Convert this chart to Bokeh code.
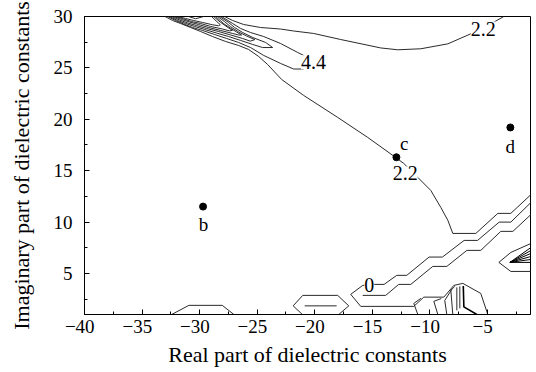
from bokeh.plotting import figure
from bokeh.models import Range1d, SingleIntervalTicker, ColumnDataSource, LabelSet
from bokeh.embed import file_html
from bokeh.resources import INLINE
from bokeh.core.properties import value

FONT = "Liberation Serif"

# ---------------- data ----------------
point_names = ["b", "c", "d"]
point_re = [-29.7, -12.9, -3.0]
point_im = [11.5, 16.3, 19.2]

x_tick_values = [-40, -35, -30, -25, -20, -15, -10, -5]

# contour level 2.2 - long line through point c
c22_diag_x = [-33.0, -32.35, -31.65, -30.78, -29.91, -28.87, -27.74, -26.61, -25.74, -24.87,
              -24.09, -22.87, -20.96, -18.0, -15.39, -12.96, -12.26, -11.04, -9.91, -9.04,
              -8.43, -8.0, -6.0, -4.09, -2.96, -1.2]
c22_diag_y = [30.0, 29.61, 29.32, 28.93, 28.54, 28.05, 27.57, 27.18, 26.79, 26.11,
              25.33, 23.87, 22.32, 20.18, 18.23, 16.28, 15.70, 14.34, 13.07, 11.42,
              10.16, 8.89, 8.89, 10.84, 10.84, 12.68]
# contour level 2.2 - upper curve
c22_top_x = [-27.83, -27.13, -26.17, -24.70, -22.96, -21.83, -20.09, -17.74, -14.26, -12.78,
             -10.78, -8.43, -6.43, -4.96, -3.57]
c22_top_y = [30.0, 29.61, 29.22, 28.93, 28.78, 28.59, 28.35, 27.76, 26.94, 26.76,
             26.86, 27.34, 28.32, 29.12, 30.0]
# contour level 4.4 (tongue)
c44_x = [-32.78, -32.09, -31.39, -30.61, -29.74, -28.70, -27.65, -26.61, -25.57, -24.43,
         -22.96, -21.83, -20.96, -20.52, -20.96, -21.48, -22.96, -24.43, -25.57, -26.43,
         -27.13, -28.09]
c44_y = [30.0, 29.61, 29.27, 28.93, 28.64, 28.25, 27.86, 27.47, 26.98, 26.21,
         25.43, 24.89, 24.89, 25.53, 26.21, 26.50, 27.37, 28.05, 28.44, 28.83,
         29.32, 30.0]
# inner levels of the upper-left cluster
c66_x = [-32.61, -31.91, -31.22, -30.43, -29.57, -28.52, -27.48, -26.43, -25.39, -24.52,
         -23.65, -24.26, -25.39, -26.26, -26.96, -27.48, -28.26]
c66_y = [30.0, 29.61, 29.32, 29.03, 28.74, 28.39, 28.05, 27.67, 27.28, 26.98,
         26.98, 27.47, 27.96, 28.44, 28.93, 29.42, 30.0]
c88_x = [-32.43, -31.74, -31.04, -30.26, -29.39, -28.35, -27.30, -26.26, -25.6, -25.2,
         -25.91, -26.61, -27.30, -27.83, -28.43]
c88_y = [30.0, 29.66, 29.37, 29.12, 28.83, 28.54, 28.20, 27.86, 27.6, 27.75,
         28.1, 28.5, 29.0, 29.5, 30.0]
c110_x = [-32.26, -31.57, -30.87, -30.09, -29.22, -28.17, -27.13, -26.6, -26.35, -26.8,
          -27.3, -27.9, -28.3, -28.61]
c110_y = [30.0, 29.71, 29.46, 29.22, 28.93, 28.64, 28.35, 28.2, 28.2, 28.5,
          28.85, 29.3, 29.7, 30.0]
c132_x = [-32.09, -31.39, -30.70, -29.91, -29.04, -28.0, -27.4, -27.15, -27.5, -28.2, -28.78]
c132_y = [30.0, 29.76, 29.51, 29.32, 29.03, 28.78, 28.6, 28.65, 28.9, 29.45, 30.0]
c154_x = [-31.91, -31.22, -30.52, -29.74, -28.9, -28.35, -28.2, -28.5, -28.96]
c154_y = [30.0, 29.81, 29.61, 29.42, 29.2, 29.1, 29.2, 29.5, 30.0]
c176_x = [-30.96, -30.35, -29.65]
c176_y = [30.0, 29.78, 30.0]

# lower contours
hexA_x = [-32.43, -30.93, -28.03, -27.02]
hexA_y = [1.0, 1.89, 1.89, 1.0]
hexB_x = [-21.07, -21.87, -21.04, -18.0, -17.04, -17.91]
hexB_y = [1.0, 1.84, 2.86, 2.86, 1.84, 1.0]
hexB_in_x = [-20.87, -18.09]
hexB_in_y = [1.84, 1.84]

c0_x = [-1.2, -2.96, -3.97, -5.85, -7.02, -8.90, -10.06, -12.0, -12.87, -13.97, -14.87,
        -15.83, -16.87, -16.0, -11.39, -10.52, -8.78, -7.91, -7.13, -5.57, -4.96]
c0_y = [11.91, 9.99, 9.99, 8.21, 8.21, 6.59, 6.59, 4.81, 4.81, 3.93, 3.93,
        3.83, 2.96, 1.79, 1.79, 2.69, 2.69, 3.83, 4.03, 3.05, 1.0]
band_x = [-1.2, -2.78, -3.83, -5.57, -6.78, -8.52, -9.74, -11.65, -12.70, -13.83, -15.83]
band_y = [10.74, 9.09, 9.09, 7.24, 7.24, 5.68, 5.68, 3.93, 3.93, 2.86, 2.86]

tri_x = [-1.2, -2.96, -4.0, -2.96, -1.2]
tri_y = [7.92, 7.04, 6.07, 5.19, 5.19]
fan_start_x = -3.04
fan_start_y = 6.07
fan_end_y = [7.53, 7.24, 6.95, 6.65, 6.36, 6.07]

hatch_xs = [[-11.04, -11.39, -10.78], [-9.30, -9.65, -9.0], [-8.52, -8.70, -8.09],
            [-8.0, -8.17, -7.83], [-7.65, -7.65], [-7.39, -7.39]]
hatch_ys = [[1.0, 2.08, 2.57], [1.0, 2.28, 2.55], [1.0, 2.37, 3.44],
            [1.0, 3.35, 3.74], [1.40, 3.64], [1.60, 3.74]]
hook_x = [-7.09, -7.04, -5.91]
hook_y = [3.78, 1.74, 1.0]

level_text = ["4.4", "2.2", "2.2", "0"]
level_x = [-20.1, -5.36, -12.14, -15.26]
level_y = [25.55, 28.83, 14.73, 3.83]

name_x = [-29.67, -12.22, -3.02]
name_y = [9.77, 17.65, 17.35]

# ---------------- figure ----------------
p = figure(width=536, height=372, x_range=Range1d(-40, -1.25), y_range=Range1d(1, 30),
           output_backend="svg", toolbar_location=None,
           min_border_left=84, min_border_right=6, min_border_top=16, min_border_bottom=58)
p.background_fill_color = "white"
p.border_fill_color = "white"
p.outline_line_color = "black"
p.outline_line_width = 1
p.xgrid.visible = False
p.ygrid.visible = False

p.xaxis.ticker = SingleIntervalTicker(interval=5, num_minor_ticks=2)
p.yaxis.ticker = SingleIntervalTicker(interval=5, num_minor_ticks=2)
p.xaxis.major_label_overrides = {v: "\u2212" + str(abs(v)) + "\u2007" for v in x_tick_values}
for ax in (p.xaxis[0], p.yaxis[0]):
    ax.axis_line_color = "black"
    ax.major_tick_line_color = "black"
    ax.minor_tick_line_color = "black"
    ax.major_tick_in = 5
    ax.major_tick_out = 0
    ax.minor_tick_in = 3
    ax.minor_tick_out = 0
    ax.major_label_text_font = FONT
    ax.major_label_text_font_size = "19px"
    ax.major_label_text_color = "black"
    ax.axis_label_text_font = FONT
    ax.axis_label_text_font_size = "22px"
    ax.axis_label_text_font_style = "normal"
    ax.axis_label_text_color = "black"
p.xaxis.axis_label = "Real part of dielectric constants"
p.yaxis.axis_label = "Imaginary part of dielectric constants"
p.xaxis.major_label_standoff = 1
p.xaxis.axis_label_standoff = 2
p.yaxis.major_label_standoff = 12
p.yaxis.axis_label_standoff = 17

LC = "#2a2a2a"
lines = [(c22_diag_x, c22_diag_y), (c22_top_x, c22_top_y), (c44_x, c44_y),
         (c66_x, c66_y), (c88_x, c88_y), (c110_x, c110_y), (c132_x, c132_y),
         (c154_x, c154_y), (c176_x, c176_y), (hexA_x, hexA_y), (hexB_x, hexB_y),
         (hexB_in_x, hexB_in_y), (c0_x, c0_y), (band_x, band_y), (tri_x, tri_y)]
p.multi_line(xs=[l[0] for l in lines], ys=[l[1] for l in lines], line_color=LC, line_width=1)
p.multi_line(xs=[[fan_start_x, -1.2] for _ in fan_end_y],
             ys=[[fan_start_y, e] for e in fan_end_y], line_color="black", line_width=1)
p.multi_line(xs=hatch_xs, ys=hatch_ys, line_color=LC, line_width=1)
p.line(hook_x, hook_y, line_color="black", line_width=1.6)

lsrc = ColumnDataSource(dict(x=level_x, y=level_y, t=level_text))
p.add_layout(LabelSet(x="x", y="y", text="t", source=lsrc, text_font=value(FONT),
                      text_font_size="20px", text_align="center", text_baseline="middle",
                      text_color="black", background_fill_color="white"))

p.scatter(point_re, point_im, size=7, color="black")
nsrc = ColumnDataSource(dict(x=name_x, y=name_y, t=point_names))
p.add_layout(LabelSet(x="x", y="y", text="t", source=nsrc, text_font=value(FONT),
                      text_font_size="19px", text_align="center", text_baseline="middle",
                      text_color="black"))

open("out.html", "w").write(file_html(p, INLINE))
